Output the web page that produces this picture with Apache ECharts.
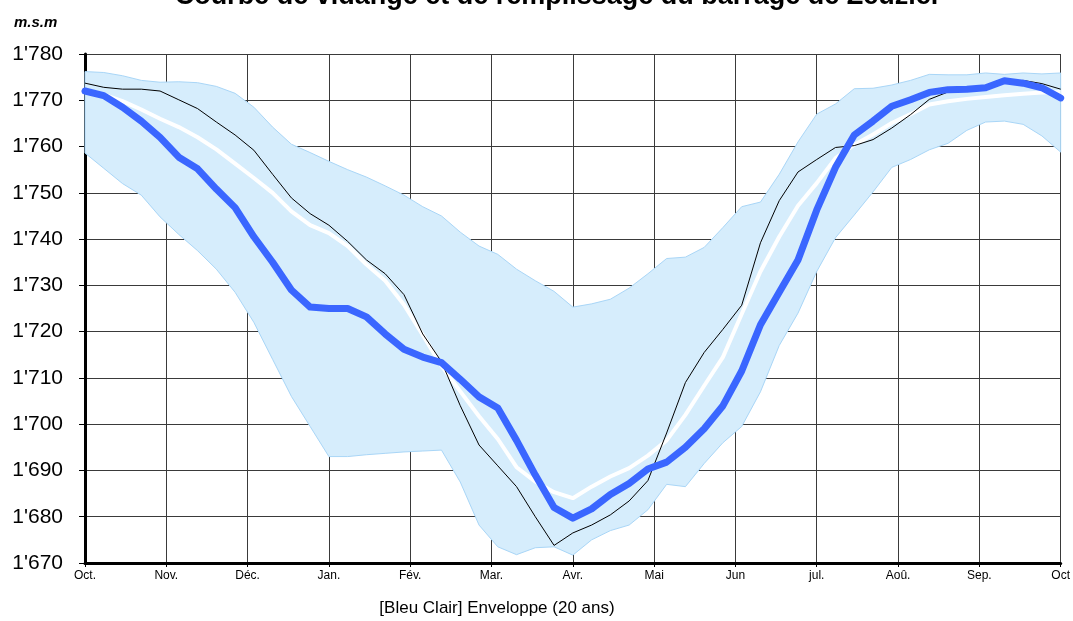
<!DOCTYPE html>
<html>
<head>
<meta charset="utf-8">
<script src="https://cdn.jsdelivr.net/npm/echarts@6/dist/echarts.min.js"></script>
<style>
html,body{margin:0;padding:0;background:#fff;}
#chart{width:1073px;height:621px;}
</style>
</head>
<body>
<div id="chart"></div>
<script>
// Month tick labels (x axis)
var monthLabels = ['Oct.','Nov.','Déc.','Jan.','Fév.','Mar.','Avr.','Mai','Jun','jul.','Aoû.','Sep.','Oct'];
// Weekly samples (53 points, week 0 = 1 Oct, week 52 = 1 Oct next year)
var weeksPerYear = 52;
// Actual level (thick blue line)
var actual = [1772,1771,1768.5,1765.5,1762,1757.7,1755.2,1750.8,1746.8,1740.5,1735,1729,1725.3,1725,1725,1723.2,1719.5,1716.2,1714.5,1713.3,1709.7,1705.9,1703.5,1696.5,1689,1682,1679.7,1681.7,1684.8,1687.2,1690.3,1691.8,1695,1699,1704,1711.5,1721.5,1728.5,1735.5,1746.3,1755.5,1762.5,1765.5,1768.7,1770.1,1771.7,1772.3,1772.4,1772.7,1774.2,1773.7,1772.7,1770.5];
// Mean level (white line)
var mean = [1772.2,1771.2,1769.8,1768,1766,1764.2,1762,1759.4,1756.3,1753.2,1750,1746,1743,1741.3,1738.5,1734.5,1731,1725.8,1719.3,1712.6,1707.1,1701.7,1696.8,1690.7,1687.6,1685.3,1684,1686.5,1688.7,1690.5,1693.2,1696.5,1702,1708.3,1714.5,1723.8,1733,1740.5,1747.2,1752.1,1757.5,1760.4,1762.6,1765.1,1767,1769.1,1769.8,1770.3,1770.7,1771.1,1771.4,1771.7,1771.8];
// Previous year (thin black line)
var previous = [1773.7,1772.8,1772.4,1772.4,1772,1770.1,1768.2,1765.3,1762.5,1759.2,1754,1748.9,1745.5,1743,1739.5,1735.5,1732.5,1728,1719.5,1713.5,1704,1695.5,1691,1686.5,1680,1673.8,1676.5,1678.2,1680.4,1683.4,1687.8,1698.1,1709,1715.5,1720.5,1725.7,1739.2,1748.3,1754.5,1757.2,1759.8,1760.2,1761.5,1764,1766.9,1770.2,1771.8,1772.3,1772.7,1774,1774.3,1773.6,1772.4];
// Envelope (20 years) upper and lower bounds
var envUpper = [1776.2,1776,1775.3,1774.3,1773.9,1774,1773.8,1773,1771.5,1768.5,1764.2,1760.5,1758.7,1756.8,1755,1753.4,1751.5,1749.5,1747,1745,1741.5,1738.5,1736.7,1733.5,1731,1728.7,1725.3,1726,1727,1729.4,1732.5,1735.8,1736.1,1738.2,1742.5,1747,1748,1754,1761,1767,1769.2,1772.5,1772.6,1773.3,1774.3,1775.6,1775.5,1775.5,1775.9,1775.6,1775.9,1775.7,1775.9];
var envLower = [1758.6,1755.3,1752,1749.5,1744.8,1741,1737.5,1733.5,1728.5,1722,1714,1706,1699.5,1693,1693,1693.4,1693.7,1694,1694.2,1694.4,1687.5,1678.2,1673.5,1671.8,1673.3,1673.5,1671.7,1675,1677,1678.2,1681.5,1687,1686.5,1691.5,1696,1699.5,1707,1717,1724,1733,1740.3,1745.2,1750.2,1755.5,1757.2,1759.3,1760.7,1763.5,1765.3,1765.5,1764.8,1762.3,1758.8];

function xOf(i){ return i*12/weeksPerYear; }
function toXY(arr){ return arr.map(function(v,i){ return [xOf(i), v]; }); }

var chart = echarts.init(document.getElementById('chart'), null, {renderer:'canvas'});
var font = 'Arial, "Liberation Sans", sans-serif';
var envEdge = '#A9D6F7';
var envFill = '#D6EDFC';
chart.setOption({
  animation:false,
  backgroundColor:'#fff',
  graphic:[
    {type:'text', x:558, y:-3, style:{text:'Courbe de vidange et de remplissage du barrage de Zeuzier', font:'bold 27px Arial, "Liberation Sans", sans-serif', fill:'#000', textAlign:'center', textVerticalAlign:'middle'}},
    {type:'text', left:14, top:15, style:{text:'m.s.m', font:'italic bold 15px Arial, "Liberation Sans", sans-serif', fill:'#000'}},
    {type:'text', x:497, y:608, style:{text:'[Bleu Clair] Enveloppe (20 ans)', font:'17px Arial, "Liberation Sans", sans-serif', fill:'#000', textAlign:'center', textVerticalAlign:'middle'}}
  ],
  grid:{left:85, right:11, top:54, bottom:58, containLabel:false},
  xAxis:{
    type:'value', min:0, max:12, interval:1,
    axisLine:{show:true, onZero:false, lineStyle:{color:'#000', width:3}},
    axisTick:{show:true, length:4, lineStyle:{color:'#000', width:1}},
    axisLabel:{fontFamily:font, fontSize:12, color:'#000', margin:7,
      formatter:function(v){ return monthLabels[Math.round(v)] || ''; }},
    splitLine:{show:true, lineStyle:{color:'#3a3a3a', width:1}}
  },
  yAxis:{
    type:'value', min:1670, max:1780, interval:10,
    axisLine:{show:true, lineStyle:{color:'#000', width:3}},
    axisTick:{show:true, length:6, lineStyle:{color:'#000', width:1}},
    axisLabel:{fontFamily:font, fontSize:21, color:'#000', margin:22,
      formatter:function(v){ var s=String(Math.round(v)); return s.charAt(0)+"'"+s.slice(1); }},
    splitLine:{show:true, lineStyle:{color:'#3a3a3a', width:1}}
  },
  series:[
    {name:'envelope', type:'custom', z:1, silent:true,
      data:[0],
      renderItem:function(params, api){
        var pts = [];
        for (var i=0;i<envUpper.length;i++) pts.push(api.coord([xOf(i), envUpper[i]]));
        for (var j=envLower.length-1;j>=0;j--) pts.push(api.coord([xOf(j), envLower[j]]));
        return {type:'polygon', shape:{points:pts}, style:{fill:envFill, stroke:envEdge, lineWidth:1}};
      }
    },
    {name:'mean', type:'line', data:toXY(mean), symbol:'none',
      lineStyle:{color:'#ffffff', width:4}, z:3},
    {name:'previous', type:'line', data:toXY(previous), symbol:'none',
      lineStyle:{color:'#000', width:1}, z:4},
    {name:'actual', type:'line', data:toXY(actual), symbol:'none',
      lineStyle:{color:'#3A66FF', width:7, join:'round', cap:'round'}, z:5}
  ]
});
</script>
</body>
</html>
